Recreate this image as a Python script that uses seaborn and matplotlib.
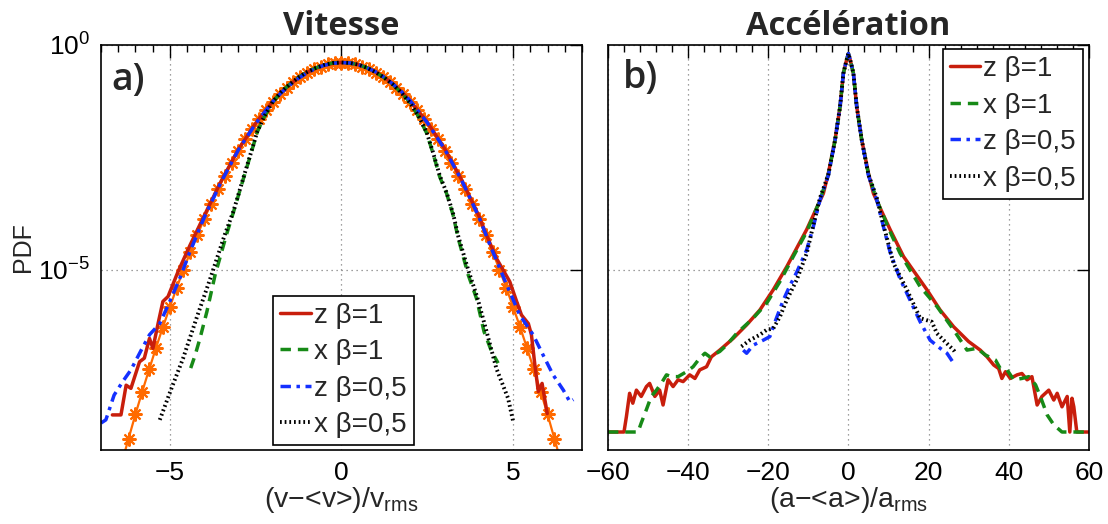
import numpy as np
import matplotlib
matplotlib.use("Agg")
import matplotlib.pyplot as plt
from matplotlib.ticker import FixedLocator, MultipleLocator, NullLocator, NullFormatter
import seaborn as sns

# ── Vitesse (velocity PDFs), values are log10(PDF) ───────────────────────────
vit_zb1_x = [-6.67, -6.42, -6.27, -6.13, -5.88, -5.74, -5.59, -5.49, -5.34, -5.20,
             -5.05, -4.76, -4.41, -4.0, -3.5, -3.0, -2.5, -2.0, -1.75, -1.5,
             -1.25, -1.0, -0.75, -0.5, -0.25, 0.0, 0.25, 0.5, 0.75, 1.0,
             1.25, 1.5, 1.75, 2.0, 2.5, 3.0, 3.5, 4.0, 4.22, 4.51,
             4.90, 5.10, 5.24, 5.44, 5.53, 5.63, 5.73, 5.84, 5.99]
vit_zb1_log = [-8.22, -8.22, -7.56, -7.63, -7.04, -6.96, -6.52, -6.74, -6.19, -5.70,
               -5.59, -5.04, -4.45, -3.80, -3.02, -2.32, -1.74, -1.25, -1.05, -0.88,
               -0.73, -0.61, -0.52, -0.45, -0.41, -0.39, -0.40, -0.44, -0.51, -0.60,
               -0.72, -0.87, -1.04, -1.24, -1.72, -2.30, -3.00, -3.80, -4.22, -4.74,
               -5.26, -5.70, -6.00, -6.19, -6.44, -7.11, -7.70, -7.52, -8.19]

vit_xb1_x = [-4.39, -4.26, -4.12, -3.92, -3.68, -3.35, -3.14, -2.84, -2.65, -2.45,
             -2.25, -2.0, -1.75, -1.5, -1.25, -1.0, -0.75, -0.5, -0.25, 0.0,
             0.25, 0.5, 0.75, 1.0, 1.25, 1.5, 1.75, 2.0, 2.25, 2.48,
             2.67, 2.86, 3.06, 3.25, 3.40, 3.69, 3.93, 4.15, 4.37, 4.56]
vit_xb1_log = [-7.18, -6.89, -6.52, -5.93, -5.11, -4.22, -3.70, -2.93, -2.45, -1.93,
               -1.60, -1.27, -1.04, -0.87, -0.72, -0.60, -0.51, -0.44, -0.40, -0.39,
               -0.40, -0.44, -0.51, -0.61, -0.73, -0.88, -1.07, -1.28, -1.60, -1.96,
               -2.42, -2.93, -3.30, -3.78, -4.30, -5.11, -5.63, -6.37, -6.81, -7.07]

vit_zb05_x = [-7.0, -6.86, -6.62, -6.37, -6.13, -5.83, -5.59, -5.29, -5.0, -4.71,
              -4.41, -4.0, -3.5, -3.0, -2.5, -2.0, -1.75, -1.5, -1.25, -1.0,
              -0.75, -0.5, -0.25, 0.0, 0.25, 0.5, 0.75, 1.0, 1.25, 1.5,
              1.75, 2.0, 2.5, 3.0, 3.5, 4.0, 4.32, 4.81, 5.19, 5.58,
              5.87, 6.16, 6.46, 6.65, 6.75]
vit_zb05_log = [-8.40, -8.33, -7.78, -7.48, -7.22, -6.78, -6.44, -6.19, -5.70, -5.19,
                -4.59, -3.84, -3.04, -2.33, -1.75, -1.26, -1.06, -0.89, -0.74, -0.62,
                -0.52, -0.45, -0.41, -0.39, -0.40, -0.44, -0.51, -0.60, -0.72, -0.87,
                -1.04, -1.24, -1.73, -2.31, -3.01, -3.82, -4.44, -5.33, -6.00, -6.44,
                -6.89, -7.33, -7.67, -7.93, -7.88]

vit_xb05_x = [-5.29, -4.95, -4.61, -4.22, -3.82, -3.40, -3.14, -2.84, -2.65, -2.45,
              -2.25, -2.0, -1.75, -1.5, -1.25, -1.0, -0.75, -0.5, -0.25, 0.0,
              0.25, 0.5, 0.75, 1.0, 1.25, 1.5, 1.75, 2.0, 2.25, 2.48,
              2.67, 2.86, 3.06, 3.25, 3.40, 3.69, 3.95, 4.20, 4.51, 4.85, 5.0]
vit_xb05_log = [-8.33, -7.63, -6.96, -6.07, -5.19, -4.22, -3.68, -2.91, -2.43, -1.92,
                -1.59, -1.26, -1.04, -0.87, -0.72, -0.60, -0.51, -0.44, -0.40, -0.39,
                -0.40, -0.44, -0.51, -0.61, -0.73, -0.88, -1.07, -1.29, -1.59, -1.94,
                -2.40, -2.90, -3.28, -3.75, -4.25, -5.00, -5.60, -6.30, -7.19, -7.85, -8.37]

# gaussian reference (orange, asterisks)
gauss_x = [-6.6, -6.4, -6.2, -6.0, -5.8, -5.6, -5.4, -5.2, -5.0, -4.8, -4.6, -4.4,
           -4.2, -4.0, -3.8, -3.6, -3.4, -3.2, -3.0, -2.8, -2.6, -2.4, -2.2, -2.0,
           -1.8, -1.6, -1.4, -1.2, -1.0, -0.8, -0.6, -0.4, -0.2, 0.0, 0.2, 0.4,
           0.6, 0.8, 1.0, 1.2, 1.4, 1.6, 1.8, 2.0, 2.2, 2.4, 2.6, 2.8,
           3.0, 3.2, 3.4, 3.6, 3.8, 4.0, 4.2, 4.4, 4.6, 4.8, 5.0, 5.2,
           5.4, 5.6, 5.8, 6.0, 6.2, 6.4, 6.6]
gauss_log = [-9.86, -9.29, -8.75, -8.21, -7.70, -7.21, -6.73, -6.27, -5.83, -5.40, -4.99, -4.60,
             -4.23, -3.87, -3.53, -3.21, -2.91, -2.62, -2.35, -2.10, -1.87, -1.65, -1.45, -1.27,
             -1.10, -0.95, -0.82, -0.71, -0.62, -0.54, -0.48, -0.43, -0.41, -0.40, -0.41, -0.43,
             -0.48, -0.54, -0.62, -0.71, -0.82, -0.95, -1.10, -1.27, -1.45, -1.65, -1.87, -2.10,
             -2.35, -2.62, -2.91, -3.21, -3.53, -3.87, -4.23, -4.60, -4.99, -5.40, -5.83, -6.27,
             -6.73, -7.21, -7.70, -8.21, -8.75, -9.29, -9.86]

# ── Accélération (acceleration PDFs), log10(PDF) ─────────────────────────────
acc_zb1_x = [-60, -56.0, -55.4, -54.6, -53.8, -52.9, -51.7, -50.4, -49.6, -48.3,
             -47.1, -46.25, -45.0, -43.75, -42.5, -41.25, -39.6, -38.3, -37.1, -35.4,
             -34.2, -32.1, -28.75, -25.4, -22.1, -18.75, -15.4, -10.4, -6.25, -5.0,
             -3.33, -2.08, -1.25, -0.5, 0, 0.5, 1.25, 2.08, 3.33, 5.0,
             6.25, 10.4, 13.75, 19.6, 22.9, 26.25, 28.75, 30.0, 32.9, 34.6,
             36.25, 37.5, 38.3, 39.2, 40.4, 42.1, 43.3, 44.6, 45.8, 47.1,
             48.3, 50.0, 51.25, 52.1, 53.3, 54.6, 55.25, 55.8, 56.25, 57.0, 60]
acc_zb1_log = [-8.60, -8.60, -8.26, -7.74, -7.96, -7.67, -7.81, -7.59, -7.52, -7.81,
               -7.67, -8.00, -7.44, -7.59, -7.44, -7.48, -7.33, -7.41, -7.22, -7.15,
               -6.93, -6.78, -6.52, -6.22, -5.89, -5.44, -4.93, -4.10, -3.30, -2.85,
               -2.11, -1.37, -0.63, -0.35, -0.19, -0.35, -0.63, -1.37, -2.11, -2.85,
               -3.30, -4.10, -4.70, -5.44, -5.89, -6.26, -6.48, -6.59, -6.78, -6.93,
               -7.11, -7.19, -7.41, -7.26, -7.41, -7.33, -7.30, -7.44, -7.37, -8.00,
               -7.81, -7.67, -7.89, -7.74, -8.04, -7.81, -8.60, -7.85, -8.04, -8.60, -8.60]

acc_xb1_x = [-60, -52.5, -51.7, -50.4, -49.2, -47.9, -46.7, -45.4, -44.2, -42.5,
             -40.4, -38.75, -37.1, -35.8, -34.6, -32.1, -30.4, -27.9, -23.75, -20.4,
             -17.1, -13.75, -10.4, -7.1, -5.0, -3.33, -2.08, -1.25, -0.5, 0,
             0.5, 1.25, 2.08, 3.33, 5.0, 7.1, 10.4, 12.9, 17.9, 22.1,
             26.25, 29.6, 32.1, 34.2, 36.7, 37.9, 39.6, 41.25, 43.3, 45.0,
             46.7, 47.9, 49.6, 51.25, 53.3, 60]
acc_xb1_log = [-8.60, -8.60, -8.40, -8.10, -7.81, -7.67, -7.52, -7.33, -7.37, -7.37,
               -7.26, -7.15, -6.96, -6.85, -6.93, -6.81, -6.67, -6.41, -6.07, -5.74,
               -5.26, -4.70, -4.15, -3.45, -2.87, -2.12, -1.37, -0.63, -0.35, -0.19,
               -0.35, -0.63, -1.37, -2.12, -2.87, -3.45, -4.15, -4.63, -5.37, -5.81,
               -6.33, -6.78, -6.74, -6.89, -7.00, -7.19, -7.22, -7.44, -7.41, -7.37,
               -7.55, -7.81, -8.22, -8.44, -8.60, -8.60]

acc_zb05_x = [-26.25, -25.4, -23.75, -21.25, -19.6, -18.3, -16.25, -14.6, -12.9, -10.4,
              -8.75, -7.1, -5.0, -3.33, -2.08, -1.25, -0.5, 0, 0.5, 1.25,
              2.08, 3.33, 5.0, 7.1, 8.75, 10.4, 12.9, 14.6, 17.9, 20.4,
              22.9, 24.6, 26.25]
acc_zb05_log = [-6.78, -6.85, -6.67, -6.56, -6.48, -6.15, -5.67, -5.35, -5.05, -4.55,
                -4.04, -3.45, -2.90, -2.12, -1.37, -0.63, -0.35, -0.19, -0.35, -0.63,
                -1.37, -2.12, -2.90, -3.45, -4.04, -4.60, -5.20, -5.52, -6.15, -6.56,
                -6.74, -6.85, -7.07]

acc_xb05_x = [-26.7, -24.6, -22.1, -20.4, -18.75, -17.1, -15.4, -12.9, -10.4, -8.75,
              -7.1, -5.0, -3.33, -2.08, -1.25, -0.5, 0, 0.5, 1.25, 2.08,
              3.33, 5.0, 7.1, 8.75, 11.25, 14.6, 17.9, 20.8, 22.1, 23.75,
              26.25, 26.7]
acc_xb05_log = [-6.70, -6.56, -6.44, -6.33, -6.30, -6.04, -5.67, -5.22, -4.63, -4.00,
                -3.40, -2.88, -2.11, -1.37, -0.63, -0.35, -0.19, -0.35, -0.63, -1.37,
                -2.11, -2.88, -3.40, -4.00, -4.85, -5.44, -6.07, -6.15, -6.41, -6.56,
                -6.78, -6.85]

labels = ["z \u03b2=1", "x \u03b2=1", "z \u03b2=0,5", "x \u03b2=0,5"]

RED, GREEN, BLUE, BLACK, ORANGE = "#c81e0c", "#178a17", "#1430ff", "black", "#ff6a00"
styles = [
    dict(color=RED, linestyle="-", lw=2.5),
    dict(color=GREEN, linestyle=(0, (3, 2)), lw=2.5),
    dict(color=BLUE, linestyle=(0, (3, 1.6, 1, 1.6)), lw=2.5),
    dict(color=BLACK, linestyle=(0, (0.45, 0.75)), lw=2.8),
]

sns.set_style("white")
plt.rcParams["font.family"] = ["Liberation Sans", "DejaVu Sans"]
plt.rcParams["mathtext.fontset"] = "custom"
plt.rcParams["mathtext.rm"] = "Liberation Sans"
plt.rcParams["mathtext.it"] = "Liberation Sans:italic"
plt.rcParams["axes.unicode_minus"] = True

fig = plt.figure(figsize=(11.08, 5.24), dpi=100)
ax1 = fig.add_axes([0.0912, 0.1412, 0.434, 0.773])
ax2 = fig.add_axes([0.5487, 0.1412, 0.434, 0.773])


def draw(ax, x, logy, st, label=None, **extra):
    sns.lineplot(x=np.array(x, float), y=10.0 ** np.array(logy), ax=ax,
                 sort=False, estimator=None, errorbar=None,
                 label=label, legend=False, **st, **extra)


# velocity panel
draw(ax1, gauss_x, gauss_log, dict(color=ORANGE, linestyle="-", lw=1.6),
     marker=(8, 2, 0), markersize=10, markeredgewidth=1.5, markeredgecolor=ORANGE)
for (xs, ys), st, lab in zip([(vit_zb1_x, vit_zb1_log), (vit_xb1_x, vit_xb1_log),
                              (vit_zb05_x, vit_zb05_log), (vit_xb05_x, vit_xb05_log)],
                             styles, labels):
    draw(ax1, xs, ys, st, lab)

# acceleration panel
for (xs, ys), st, lab in zip([(acc_zb1_x, acc_zb1_log), (acc_xb1_x, acc_xb1_log),
                              (acc_zb05_x, acc_zb05_log), (acc_xb05_x, acc_xb05_log)],
                             styles, labels):
    draw(ax2, xs, ys, st, lab)

for ax in (ax1, ax2):
    ax.set_yscale("log")
    ax.set_ylim(1e-9, 1e0)
    ax.yaxis.set_major_locator(FixedLocator([1e-5, 1e0]))
    ax.yaxis.set_minor_locator(NullLocator())
    ax.tick_params(which="both", direction="in", top=True, right=True,
                   labelsize=19, colors="black")
    ax.tick_params(which="major", length=9, width=1.0)
    ax.tick_params(which="minor", length=5, width=1.0)
    ax.tick_params(axis="x", pad=8)
    ax.tick_params(axis="y", pad=8)
    ax.grid(True, which="major", linestyle=(0, (1, 3)), color="0.5", lw=0.9)
    for sp in ax.spines.values():
        sp.set_color("black")
        sp.set_linewidth(1.2)

ax1.set_xlim(-7, 7)
ax1.xaxis.set_major_locator(FixedLocator([-5, 0, 5]))
ax1.xaxis.set_minor_locator(MultipleLocator(0.5))
ax2.set_xlim(-60, 60)
ax2.xaxis.set_major_locator(FixedLocator([-60, -40, -20, 0, 20, 40, 60]))
ax2.xaxis.set_minor_locator(MultipleLocator(4))
ax2.yaxis.set_major_formatter(NullFormatter())

ax1.set_ylabel("PDF", fontsize=18, labelpad=2)
ax1.set_xlabel("(v\u2212<v>)/v$_{\\mathregular{rms}}$", fontsize=20.5, labelpad=0)
ax2.set_xlabel("(a\u2212<a>)/a$_{\\mathregular{rms}}$", fontsize=20.5, labelpad=0)

title_font = dict(family=["Open Sans", "DejaVu Sans"], weight="bold", size=23.5)
ax1.set_title("Vitesse", pad=7, **title_font)
ax2.set_title("Acc\u00e9l\u00e9ration", pad=7, **title_font)

ax1.text(0.022, 0.889, "a)", transform=ax1.transAxes, fontsize=27,
         family=["Open Sans", "DejaVu Sans"], weight="semibold", va="baseline")
ax2.text(0.031, 0.894, "b)", transform=ax2.transAxes, fontsize=27,
         family=["Open Sans", "DejaVu Sans"], weight="semibold", va="baseline")

leg_kw = dict(fontsize=20, frameon=True, fancybox=False, framealpha=1,
              edgecolor="black", handlelength=1.1, handletextpad=0.12,
              labelspacing=0.38, borderpad=0.25, borderaxespad=0)
h1 = ax1.get_lines()[1:5]
leg1 = ax1.legend(h1, labels, loc="lower left", bbox_to_anchor=(0.358, 0.012), **leg_kw)
h2 = ax2.get_lines()[0:4]
leg2 = ax2.legend(h2, labels, loc="upper right", bbox_to_anchor=(0.988, 0.99), **leg_kw)
for lg in (leg1, leg2):
    lg.get_frame().set_linewidth(1.2)

fig.savefig("out.png", dpi=100)
